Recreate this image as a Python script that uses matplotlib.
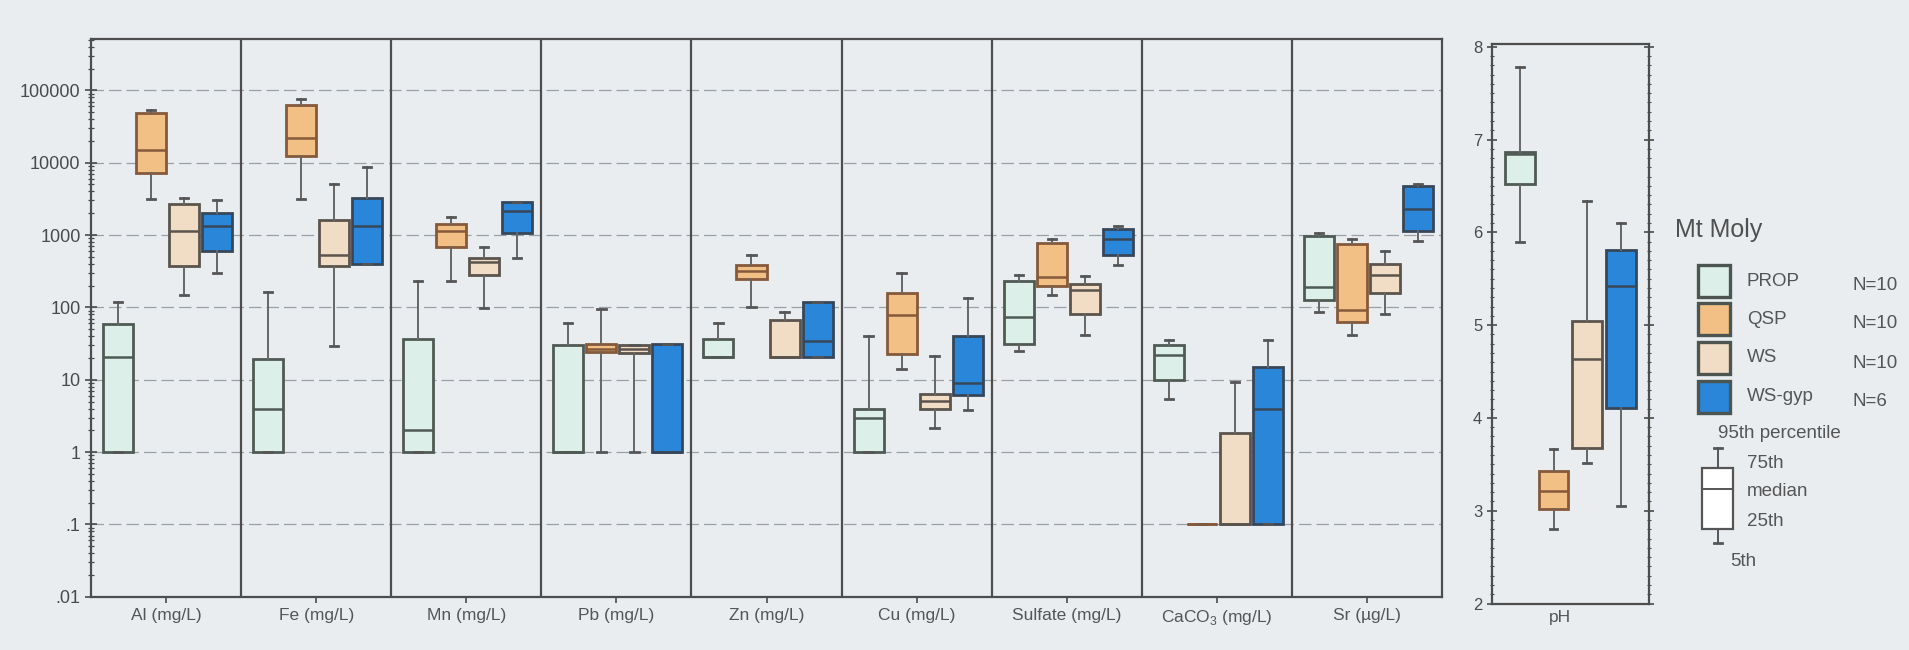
import matplotlib
matplotlib.use("Agg")
import matplotlib.pyplot as plt
from matplotlib import font_manager
from matplotlib.patches import Rectangle
from matplotlib.ticker import FixedLocator, LogLocator, NullFormatter, MultipleLocator

plt.rcParams['font.family'] = ['Liberation Sans', 'DejaVu Sans']
plt.rcParams['mathtext.fontset'] = 'custom'
plt.rcParams['mathtext.rm'] = 'Liberation Sans'

_installed = {f.name for f in font_manager.fontManager.ttflist}
NARROW = 'Liberation Sans Narrow' if 'Liberation Sans Narrow' in _installed else 'Liberation Sans'

# ---------------- data: (5th, 25th, median, 75th, 95th) ----------------
variables = ['Al (mg/L)', 'Fe (mg/L)', 'Mn (mg/L)', 'Pb (mg/L)', 'Zn (mg/L)',
             'Cu (mg/L)', 'Sulfate (mg/L)', r'CaCO$_3$ (mg/L)', 'Sr (µg/L)']

prop_stats = [(1, 1, 20.5, 58, 120), (1, 1, 4, 19.5, 165), (1, 1, 2.0, 37, 235),
              (1, 1, 1, 30, 60), (20.8, 20.8, 20.8, 37, 60), (1, 1, 3.0, 4.0, 40),
              (25, 31, 74, 233, 276), (5.4, 9.8, 22, 30, 35), (86, 128, 191, 955, 1060)]
qsp_stats = [(3150, 7150, 14900, 48400, 54000), (3150, 12250, 21900, 63000, 74800),
             (232, 674, 1130, 1410, 1760), (1, 24.3, 27, 30.8, 96),
             (102, 248, 314, 383, 525), (14, 22.5, 79, 160, 294),
             (147, 196, 259, 783, 871), (0.1, 0.1, 0.1, 0.1, 0.1), (42, 62, 92, 743, 870)]
ws_stats = [(148, 372, 1130, 2700, 3240), (29, 372, 532, 1630, 5010),
            (98, 282, 419, 486, 674), (1, 23.7, 27, 30, 30),
            (20.8, 20.8, 20.8, 66, 86), (2.15, 3.9, 5.1, 6.3, 21.6),
            (42, 81, 174, 209, 273), (0.1, 0.1, 0.1, 1.84, 9.4), (81, 157, 276, 394, 610)]
wsgyp_stats = [(294, 606, 1340, 1990, 3070), (403, 403, 1340, 3240, 8700),
               (479, 1058, 2180, 2840, 2900), (1, 1, 1, 30.8, 30.8),
               (20.8, 20.8, 34, 117, 117), (3.8, 6.2, 8.9, 40.7, 133),
               (384, 534, 871, 1195, 1328), (0.1, 0.1, 4.0, 15.2, 35.7),
               (837, 1133, 2280, 4710, 5040)]

ph_stats = [(5.9, 6.52, 6.84, 6.87, 7.78), (2.8, 3.02, 3.21, 3.43, 3.67),
            (3.51, 3.68, 4.64, 5.04, 6.34), (3.05, 4.11, 5.42, 5.81, 6.10)]

groups = ['PROP', 'QSP', 'WS', 'WS-gyp']
group_n = ['N=10', 'N=10', 'N=10', 'N=6']
fills = ['#dcefe8', '#f2bf84', '#f1dcc6', '#2a86d9']
edges = ['#505a55', '#85593a', '#5a544c', '#37475a']

ytick_vals = [0.01, 0.1, 1, 10, 100, 1000, 10000, 100000]
ytick_labels = ['.01', '.1', '1', '10', '100', '1000', '10000', '100000']

BG = '#e9edf0'
INK = '#4a4a4a'
TXT = '#555555'
W, H = 1909, 650

fig = plt.figure(figsize=(W / 100, H / 100), dpi=100, facecolor=BG)


def to_bxp(stats):
    return [dict(whislo=s[0], q1=s[1], med=s[2], q3=s[3], whishi=s[4], fliers=[])
            for s in stats]


def draw_group(ax, stats, positions, width, cap, fill, edge):
    ax.bxp(to_bxp(stats), positions=positions, widths=width, capwidths=cap,
           patch_artist=True, showfliers=False, manage_ticks=False,
           boxprops=dict(facecolor=fill, edgecolor=edge, linewidth=2.0),
           medianprops=dict(color=edge, linewidth=1.8),
           whiskerprops=dict(color='#666666', linewidth=1.4),
           capprops=dict(color='#555555', linewidth=2.0),
           zorder=3)


# ---------------- main log panel ----------------
ax = fig.add_axes([91 / W, 1 - 596.8 / H, 1351 / W, 558.3 / H], facecolor=BG)
ax.set_yscale('log')
ax.set_ylim(0.01, 10 ** 5.716)
ax.set_xlim(0, len(variables))

offsets = [-0.32, -0.10, 0.12, 0.34]
all_stats = [prop_stats, qsp_stats, ws_stats, wsgyp_stats]
for g, stats in enumerate(all_stats):
    pos = [i + 0.5 + offsets[g] for i in range(len(variables))]
    draw_group(ax, stats, pos, 0.2, 0.055, fills[g], edges[g])

for i in range(1, len(variables)):
    ax.axvline(i, color='#4d4d4d', linewidth=1.6, zorder=4)

ax.yaxis.set_major_locator(FixedLocator(ytick_vals))
ax.set_yticklabels(ytick_labels)
ax.yaxis.set_minor_locator(LogLocator(base=10, subs=[0.2, 0.3, 0.4, 0.5, 0.6, 0.7, 0.8, 0.9],
                                      numticks=20))
ax.yaxis.set_minor_formatter(NullFormatter())
for v in ytick_vals[1:]:
    ax.axhline(v, color='#9aa0a7', linewidth=0.9, linestyle=(0, (10, 4)), zorder=1)

ax.set_xticks([i + 0.5 for i in range(len(variables))])
ax.set_xticklabels(variables, fontsize=12.5, color=TXT)
ax.tick_params(axis='x', direction='out', length=4, width=1.2, color=INK, pad=4)
ax.tick_params(axis='y', which='major', direction='inout', length=9, width=1.2,
               color=INK, labelsize=13, labelcolor=INK, pad=3)
ax.tick_params(axis='y', which='minor', direction='inout', length=5, width=0.9, color=INK)
for sp in ax.spines.values():
    sp.set_color('#4d4d4d')
    sp.set_linewidth(1.6)

# ---------------- pH panel ----------------
axp = fig.add_axes([1492 / W, 1 - 603.5 / H, 157 / W, 560 / H], facecolor=BG)
axp.set_ylim(2, 8.035)
axp.set_xlim(0, 1)
ph_pos = [0.178, 0.392, 0.605, 0.822]
for g in range(len(groups)):
    draw_group(axp, [ph_stats[g]], [ph_pos[g]], 0.19, 0.05, fills[g], edges[g])
axp.set_xticks([0.433])
axp.set_xticklabels(['pH'], fontsize=12.5, color=TXT)
axp.tick_params(axis='x', length=0, pad=5)
axp.yaxis.set_major_locator(MultipleLocator(1))
axp.yaxis.set_minor_locator(MultipleLocator(0.1))
axp.tick_params(axis='y', which='major', direction='inout', length=7, width=1.2,
                color=INK, labelsize=12, labelcolor=INK, left=True, right=True)
axp.tick_params(axis='y', which='minor', direction='inout', length=3, width=0.8,
                color=INK, left=True, right=True)
for sp in axp.spines.values():
    sp.set_color('#4d4d4d')
    sp.set_linewidth(1.6)

# ---------------- legend ----------------
lg = fig.add_axes([0, 0, 1, 1], facecolor='none')
lg.set_xlim(0, W)
lg.set_ylim(H, 0)
lg.axis('off')

lg.text(1675, 230, 'Mt Moly', fontsize=18, color='#505050', va='center', ha='left')
row_y = [281, 319, 358, 396.5]
for g in range(len(groups)):
    lg.add_patch(Rectangle((1698, row_y[g] - 16), 32, 32, facecolor=fills[g],
                           edgecolor='#4d5550', linewidth=2.4))
    lg.text(1747, row_y[g], groups[g], fontsize=13.5, color=TXT, va='center', ha='left',
            family=[NARROW, 'DejaVu Sans'])
    lg.text(1853, row_y[g] + 5, group_n[g], fontsize=13.5, color=TXT, va='center',
            ha='left', family=[NARROW, 'DejaVu Sans'])

# box-and-whisker key
kx0, kx1 = 1702, 1733
kc = (kx0 + kx1) / 2
lg.add_patch(Rectangle((kx0, 468), kx1 - kx0, 61, facecolor='white', edgecolor='#555555',
                       linewidth=1.6))
lg.plot([kx0, kx1], [489, 489], color='#555555', linewidth=1.4)
lg.plot([kc, kc], [448, 468], color='#555555', linewidth=1.4)
lg.plot([kc, kc], [529, 543], color='#555555', linewidth=1.4)
lg.plot([kc - 4, kc + 4], [448, 448], color='#555555', linewidth=2)
lg.plot([kc - 4, kc + 4], [543, 543], color='#555555', linewidth=2)
key_font = dict(fontsize=13.5, color=TXT, va='center', ha='left', family=[NARROW, 'DejaVu Sans'])
lg.text(1718, 433, '95th percentile', **key_font)
lg.text(1747, 463, '75th', **key_font)
lg.text(1747, 491, 'median', **key_font)
lg.text(1747, 521, '25th', **key_font)
lg.text(1730, 562, '5th', **key_font)

fig.savefig('out.png', dpi=100, facecolor=BG)
